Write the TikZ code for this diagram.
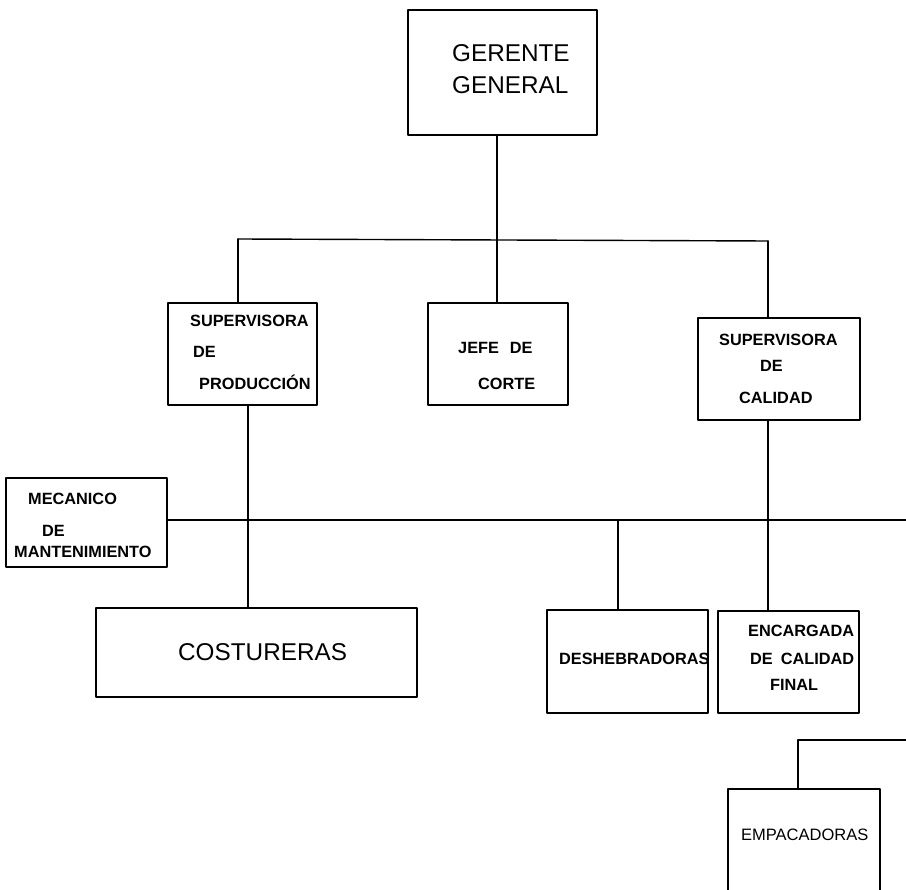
\documentclass[tikz,border=0pt]{standalone}
\usepackage{fontspec}
\setmainfont{Liberation Sans}

\begin{document}
\begin{tikzpicture}[x=1pt, y=-1pt, line cap = round, line join = round]
\tikzstyle{caja}=[draw=black, line width=1.4pt, rectangle, inner sep=0pt, outer sep=0pt]
\tikzstyle{linea}=[draw=black, line width=1.4pt]
\tikzstyle{etiq}=[anchor=base west, inner sep=0pt, font=\fontsize{16.3}{18}\selectfont\bfseries]
\tikzstyle{grande}=[anchor=base west, inner sep=0pt, font=\fontsize{24.3}{28}\selectfont]
\tikzstyle{media}=[anchor=base west, inner sep=0pt, font=\fontsize{16.5}{18}\selectfont]
\useasboundingbox (0,0) rectangle (906,890);
\clip (0,0) rectangle (906,890);

\node[caja, minimum width=189, minimum height=125] (gerente) at (502.5,72.5) {};
\node[caja, minimum width=149, minimum height=102] (supprod) at (242.5,354) {};
\node[caja, minimum width=140, minimum height=102] (jefecorte) at (498,354) {};
\node[caja, minimum width=162, minimum height=102] (supcal) at (779,369) {};
\node[caja, minimum width=161, minimum height=89] (mecanico) at (86.5,522.5) {};
\node[caja, minimum width=321, minimum height=89] (costureras) at (256.5,652.5) {};
\node[caja, minimum width=161, minimum height=103] (deshebr) at (627.5,661.5) {};
\node[caja, minimum width=141, minimum height=102] (encfinal) at (788.5,662) {};
\node[caja, minimum width=152, minimum height=141] (empac) at (804,859.5) {};

\node[grande] (gerente-a) at (452,62) {GERENTE};
\node[grande] (gerente-b) at (452,94) {GENERAL};
\node[etiq] (supprod-a) at (190,327) {SUPERVISORA};
\node[etiq] (supprod-b) at (193,358) {DE};
\node[etiq] (supprod-c) at (199,390) {PRODUCCIÓN};
\node[etiq] (jefecorte-a) at (458,354) {JEFE\hspace{11pt}DE};
\node[etiq] (jefecorte-b) at (478,390) {CORTE};
\node[etiq] (supcal-a) at (719,346) {SUPERVISORA};
\node[etiq] (supcal-b) at (760,372) {DE};
\node[etiq] (supcal-c) at (739,404) {CALIDAD};
\node[etiq] (mecanico-a) at (28,505) {MECANICO};
\node[etiq] (mecanico-b) at (42,537) {DE};
\node[etiq] (mecanico-c) at (14,558) {MANTENIMIENTO};
\node[grande] (costureras-a) at (178,661) {COSTURERAS};
\node[etiq] (deshebr-a) at (559,664) {DESHEBRADORAS};
\node[etiq] (encfinal-a) at (748,637) {ENCARGADA};
\node[etiq] (encfinal-b) at (750,664) {DE\hspace{8pt}CALIDAD};
\node[etiq] (encfinal-c) at (770,690) {FINAL};
\node[media] (empac-a) at (741,840) {EMPACADORAS};

\coordinate (c0) at (238,239);
\coordinate (c1) at (497,240);
\coordinate (c2) at (768,241);
\coordinate (c3) at (248,519);
\coordinate (c4) at (910,520);
\coordinate (c5) at (618,520);
\coordinate (c6) at (768,520);
\coordinate (c7) at (910,740);
\coordinate (c8) at (798,740);

\draw[linea] (gerente.south -| c1) -- (c1);
\draw[linea] (c0) -- (c2);
\draw[linea] (c0) -- (c0 |- supprod.north);
\draw[linea] (c1) -- (c1 |- jefecorte.north);
\draw[linea] (c2) -- (c2 |- supcal.north);
\draw[linea] (supprod.south -| c3) -- (costureras.north -| c3);
\draw[linea] (c4 -| mecanico.east) -- (c4);
\draw[linea] (c5) -- (c5 |- deshebr.north);
\draw[linea] (supcal.south -| c6) -- (encfinal.north -| c6);
\draw[linea] (c7) -- (c8) -- (c8 |- empac.north);
\end{tikzpicture}
\end{document}
